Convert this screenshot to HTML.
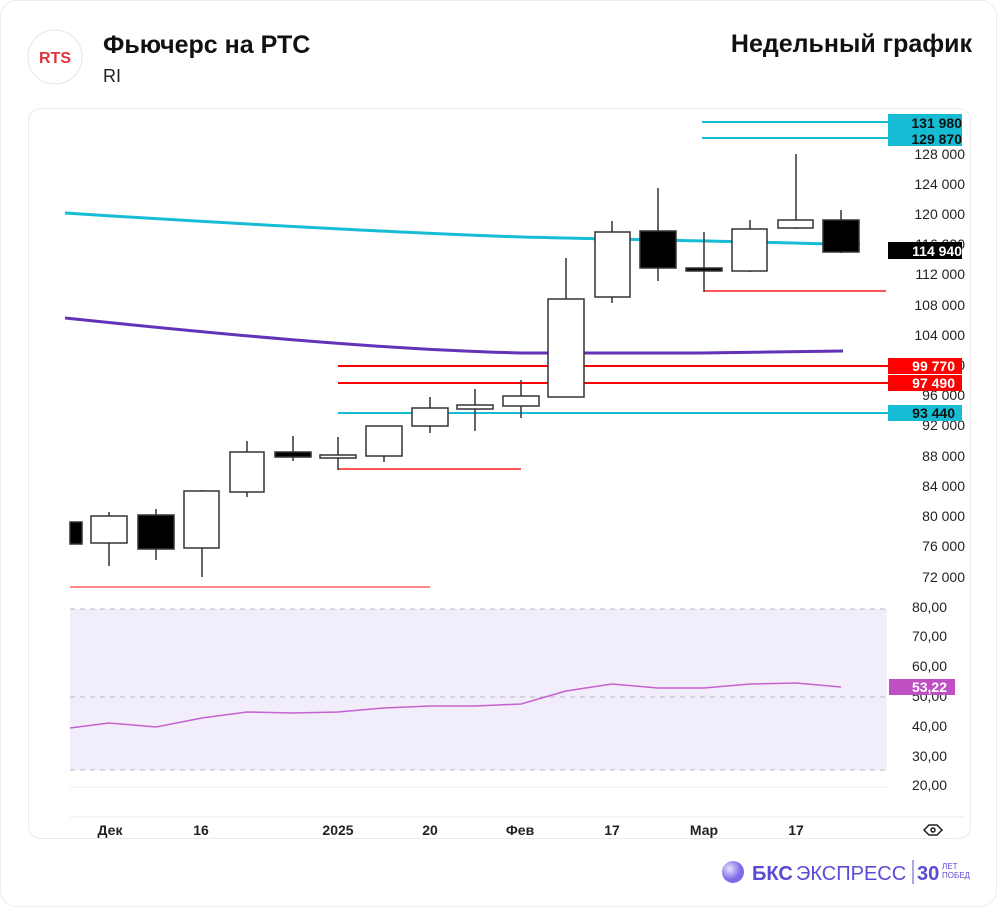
<!DOCTYPE html>
<html><head><meta charset="utf-8"><style>
body{margin:0;width:1000px;height:910px;background:#fff;overflow:hidden;font-family:"Liberation Sans","DejaVu Sans",sans-serif}
</style></head><body>
<svg width="1000" height="910" xmlns="http://www.w3.org/2000/svg" font-family="Liberation Sans, DejaVu Sans, sans-serif">
<rect x="0.5" y="0.5" width="996" height="906" rx="16" fill="#fff" stroke="#ececec"/>
<circle cx="55" cy="57" r="27" fill="#fff" stroke="#e6e6e6"/>
<text x="55" y="63" font-size="16" font-weight="bold" fill="#e0343a" text-anchor="middle">RTS</text>
<text x="103" y="53" font-size="25" font-weight="bold" fill="#111">Фьючерс на РТС</text>
<text x="103" y="82" font-size="18" fill="#222">RI</text>
<text x="972" y="52" font-size="25" font-weight="bold" fill="#111" text-anchor="end">Недельный график</text>
<rect x="28.5" y="108.5" width="942" height="730" rx="12" fill="#fff" stroke="#ebebeb"/>
<!-- RSI panel -->
<rect x="70" y="609" width="817" height="161" fill="#f1edfa"/>
<g stroke="#b8b8c0" stroke-dasharray="5,5"><line x1="70" y1="609" x2="887" y2="609"/><line x1="70" y1="697" x2="887" y2="697"/><line x1="70" y1="770" x2="887" y2="770"/></g>
<line x1="70" y1="787" x2="887" y2="787" stroke="#ebebf0"/>
<line x1="70" y1="817" x2="965" y2="817" stroke="#ebebf0"/>
<polyline fill="none" stroke="#c561d0" stroke-width="1.5" points="70,728 109,723 156,727 202,718 247,712 293,713 338,712 384,708 430,706 475,706 521,704 566,691 612,684 658,688 704,688 750,684 796,683 841,687"/>
<g font-size="14" fill="#222" text-anchor="end">
<text x="947" y="612">80,00</text><text x="947" y="641">70,00</text><text x="947" y="671">60,00</text><text x="947" y="701">50,00</text><text x="947" y="731">40,00</text><text x="947" y="761">30,00</text><text x="947" y="790">20,00</text>
</g>
<rect x="889" y="679" width="66" height="16" fill="#bf4fc3"/>
<text x="947" y="692" font-size="14" fill="#fff" text-anchor="end" font-weight="bold">53,22</text>
<!-- horizontal levels -->
<g stroke-width="2">
<line x1="702" y1="122" x2="888" y2="122" stroke="#16bcd4"/>
<line x1="702" y1="138" x2="888" y2="138" stroke="#16bcd4"/>
<line x1="338" y1="366" x2="888" y2="366" stroke="#f00"/>
<line x1="338" y1="383" x2="888" y2="383" stroke="#f00"/>
<line x1="338" y1="413" x2="888" y2="413" stroke="#16bcd4"/>
<line x1="338" y1="469" x2="521" y2="469" stroke="#f55"/>
<line x1="704" y1="291" x2="886" y2="291" stroke="#f55"/>
<line x1="70" y1="587" x2="430" y2="587" stroke="#f88"/>
</g>
<path d="M65,213 C250,225 450,235 523,237 S780,242 860,245" fill="none" stroke="#16bcd4" stroke-width="3"/>
<path d="M65,318 C200,332 380,350 523,353 L700,353 843,351" fill="none" stroke="#6233b8" stroke-width="3"/>
<!-- candles -->
<g stroke="#333" stroke-width="1.5">
<rect x="70" y="522" width="12" height="22" fill="#000"/>
<line x1="109" y1="512" x2="109" y2="566"/><rect x="91" y="516" width="36" height="27" fill="#fff"/>
<line x1="156" y1="509" x2="156" y2="560"/><rect x="138" y="515" width="36" height="34" fill="#000"/>
<line x1="202" y1="490" x2="202" y2="577"/><rect x="184" y="491" width="35" height="57" fill="#fff"/>
<line x1="247" y1="441" x2="247" y2="497"/><rect x="230" y="452" width="34" height="40" fill="#fff"/>
<line x1="293" y1="436" x2="293" y2="461"/><rect x="275" y="452" width="36" height="5" fill="#000"/>
<line x1="338" y1="437" x2="338" y2="470"/><rect x="320" y="455" width="36" height="3" fill="#fff"/>
<line x1="384" y1="426" x2="384" y2="462"/><rect x="366" y="426" width="36" height="30" fill="#fff"/>
<line x1="430" y1="397" x2="430" y2="433"/><rect x="412" y="408" width="36" height="18" fill="#fff"/>
<line x1="475" y1="389" x2="475" y2="431"/><rect x="457" y="405" width="36" height="4" fill="#fff"/>
<line x1="521" y1="380" x2="521" y2="418"/><rect x="503" y="396" width="36" height="10" fill="#fff"/>
<line x1="566" y1="258" x2="566" y2="397"/><rect x="548" y="299" width="36" height="98" fill="#fff"/>
<line x1="612" y1="221" x2="612" y2="303"/><rect x="595" y="232" width="35" height="65" fill="#fff"/>
<line x1="658" y1="188" x2="658" y2="281"/><rect x="640" y="231" width="36" height="37" fill="#000"/>
<line x1="704" y1="232" x2="704" y2="292"/><rect x="686" y="268" width="36" height="3" fill="#000"/>
<line x1="750" y1="220" x2="750" y2="272"/><rect x="732" y="229" width="35" height="42" fill="#fff"/>
<line x1="796" y1="154" x2="796" y2="229"/><rect x="778" y="220" width="35" height="8" fill="#fff"/>
<line x1="841" y1="210" x2="841" y2="253"/><rect x="823" y="220" width="36" height="32" fill="#000"/>
</g>
<!-- price axis -->
<g font-size="14" fill="#222" text-anchor="end">
<text x="965" y="159">128 000</text><text x="965" y="189">124 000</text><text x="965" y="219">120 000</text><text x="965" y="249">116 000</text><text x="965" y="279">112 000</text><text x="965" y="310">108 000</text><text x="965" y="340">104 000</text><text x="965" y="370">100 000</text><text x="965" y="400">96 000</text><text x="965" y="430">92 000</text><text x="965" y="461">88 000</text><text x="965" y="491">84 000</text><text x="965" y="521">80 000</text><text x="965" y="551">76 000</text><text x="965" y="582">72 000</text>
</g>
<rect x="888" y="114" width="74" height="32" fill="#16bcd4"/>
<rect x="888" y="242" width="74" height="17" fill="#000"/>
<rect x="888" y="358" width="74" height="16" fill="#f00"/>
<rect x="888" y="375" width="74" height="16" fill="#f00"/>
<rect x="888" y="405" width="74" height="16" fill="#16bcd4"/>
<g font-size="14" text-anchor="end" font-weight="bold">
<text x="962" y="128" fill="#111">131 980</text><text x="962" y="144" fill="#111">129 870</text>
<text x="962" y="256" fill="#fff">114 940</text>
<text x="955" y="371" fill="#fff">99 770</text><text x="955" y="388" fill="#fff">97 490</text>
<text x="955" y="418" fill="#111">93 440</text>
</g>
<!-- x axis -->
<g font-size="14" fill="#222" text-anchor="middle" font-weight="bold">
<text x="110" y="835">Дек</text><text x="201" y="835">16</text><text x="338" y="835">2025</text><text x="430" y="835">20</text><text x="520" y="835">Фев</text><text x="612" y="835">17</text><text x="704" y="835">Мар</text><text x="796" y="835">17</text>
</g>
<path d="M924,830 l5,-5 h8 l5,5 l-5,5 h-8z" fill="none" stroke="#222" stroke-width="1.5"/><circle cx="933" cy="830" r="2" fill="none" stroke="#222" stroke-width="1.5"/>
<!-- footer logo -->
<defs><radialGradient id="g" cx="0.35" cy="0.35"><stop offset="0" stop-color="#e8e4ff"/><stop offset="1" stop-color="#7c6be8"/></radialGradient></defs>
<circle cx="733" cy="872" r="11" fill="url(#g)"/>
<text x="752" y="880" font-size="20" font-weight="bold" fill="#5a4bd6">БКС</text>
<text x="796" y="880" font-size="20" fill="#5a4bd6">ЭКСПРЕСС</text>
<line x1="913" y1="860" x2="913" y2="884" stroke="#5a4bd6"/>
<text x="917" y="880" font-size="20" font-weight="bold" fill="#5a4bd6">30</text>
<text x="942" y="869" font-size="8" fill="#5a4bd6">ЛЕТ</text>
<text x="942" y="878" font-size="8" fill="#5a4bd6">ПОБЕД</text>
</svg>
</body></html>
